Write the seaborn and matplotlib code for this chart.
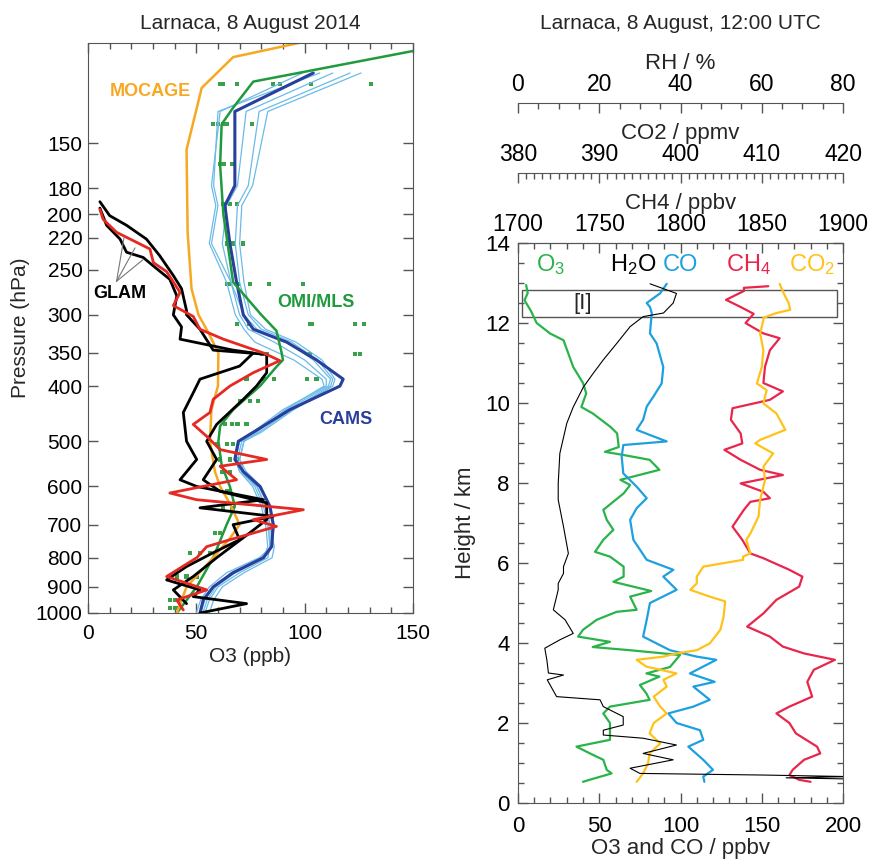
import seaborn as sns
import matplotlib.pyplot as plt
import pandas as pd
from matplotlib.patches import Rectangle
from matplotlib.ticker import MultipleLocator, NullLocator, FixedLocator

# ---------------- left panel: pressure profiles (hPa) of O3 (ppb) ----------------
mocage_p = [100, 106, 120, 154, 215, 270, 300, 322, 350, 400, 440, 500, 565, 600, 643, 700, 740, 800, 900, 1000]
mocage_o3 = [97.8, 67, 52.5, 45.5, 46, 47.8, 51, 55.5, 60.2, 60, 57, 56.3, 58.6, 61, 65.5, 70, 65.5, 57.8, 45.5, 41]

omi_p = [100, 117, 130, 139, 164, 200, 263, 300, 320, 350, 360, 370, 400, 440, 470, 500, 550, 600, 650, 700, 800, 900, 1000]
omi_o3 = [170, 76.3, 67, 61.7, 61, 62.5, 67, 80, 87, 89.4, 90, 87, 79.4, 67, 61, 60.2, 61.7, 65.5, 67.8, 64, 57.8, 50.2, 41]

omi_dot_p = ([118] * 7 + [139] * 5 + [163] * 3 + [192] * 3 + [225] * 3 + [265] * 6 + [311] * 6 + [352] * 5
             + [389] * 5 + [425] * 3 + [467] * 4 + [505] * 3 + [538] * 3 + [565] * 2 + [612] * 2 + [654] * 2
             + [723] * 2 + [784] * 3 + [863] * 3 + [949] * 3 + [980] * 3)
omi_dot_o3 = [60.9, 62.2, 68.9, 85.5, 88.6, 102.8, 130.5,
              57.8, 60.2, 62.5, 64.3, 75.8,
              60.9, 62.8, 66.3,
              62.5, 65.5, 68.6,
              64, 67, 71.4,
              64, 65.5, 69, 74.8, 83.7, 99.4,
              68.6, 74.5, 102.5, 103.5, 123.2, 127.5,
              80.2, 82.5, 102.5, 123.2, 125.5,
              73.2, 81, 86, 101, 105.5,
              70, 74.8, 78.6,
              63.2, 66.3, 69, 73.2,
              59.4, 64, 67,
              61, 65.5, 68.6,
              61.7, 65.5,
              64, 65.5,
              62.5, 66.3,
              58.6, 61,
              47, 51.7, 56.3,
              41, 45.5, 50.2,
              37.8, 40.2, 42.5,
              38, 40, 42]

cams_p = [113, 132, 178, 193, 225, 263, 300, 318, 335, 360, 389, 400, 440, 482, 500, 538, 565, 600, 650, 700, 765, 800, 850, 900, 949, 1000]
cams_o3 = [104, 67.8, 67.8, 63.2, 65.5, 68.6, 71.7, 76.3, 91.7, 105.5, 117.8, 116.3, 93.2, 76.3, 69.4, 67.8, 71.7, 79.4, 84, 85.5, 84.8, 81, 67, 57.8, 53.2, 51.7]
ens_m1 = [126, 83, 76, 71, 70, 72, 75, 82, 96, 108, 114, 113, 95, 80, 72, 70, 72, 78, 82, 84, 86, 85, 72, 62, 58, 56]
ens_m2 = [121, 79, 74, 69, 68, 70, 74, 80, 94, 106, 113, 112, 94, 79, 71, 69, 71, 77, 81, 83, 84, 83, 70, 60, 56, 54]
ens_m3 = [113, 73, 69, 64, 62, 66, 72, 78, 92, 104, 112, 111, 92, 77, 70, 68, 70, 76, 80, 82, 83, 81, 68, 59, 55, 53]
ens_m4 = [107, 60, 58, 60, 57, 66, 70, 74, 86, 100, 110, 110, 90, 76, 70, 68, 70, 78, 82, 84, 84, 80, 66, 58, 54, 52]
ens_m5 = [99, 61, 57, 59, 56, 64, 68, 72, 77, 95, 108, 109, 91, 78, 72, 70, 73, 80, 84, 86, 85, 79, 64, 56, 52, 50]

glam_k1_p = [195, 209, 221, 233, 238, 246, 260, 278, 300, 315, 331, 346, 350, 369, 389, 411, 445, 500, 538, 584, 600,
             633, 654, 677, 700, 744, 784, 829, 875, 911, 936, 963, 1000]
glam_k1_o3 = [5.5, 8.6, 14.8, 17.8, 25.5, 30, 37.8, 41, 39.4, 43.2, 42.5, 67, 76.3, 70, 51.7, 48.6, 44, 45.5, 50.2, 42.5, 50.2,
              81, 51.7, 85.5, 67, 70, 57.8, 45.5, 36.3, 51.7, 48.6, 73.2, 51.7]
glam_k2_p = [190, 201, 209, 221, 236, 256, 270, 295, 300, 318, 346, 352, 379, 400, 422, 467, 500, 538, 584, 612, 641,
             686, 723, 800, 863, 911, 963]
glam_k2_o3 = [5.5, 10, 17.8, 27, 33, 39.4, 43.2, 45.5, 45.5, 51.7, 57.8, 82.5, 82.5, 77.8, 71.7, 59.4, 54.8, 59.4, 53.2, 61, 82.5,
              82.5, 74.8, 59.4, 48.6, 39.4, 45.5]
glam_r_p = [196, 204, 215, 230, 243, 252, 274, 289, 302, 318, 331, 350, 361, 379, 400, 422, 445, 467, 490, 517, 538, 553,
            584, 616, 633, 659, 686, 705, 744, 765, 800, 863, 911, 949, 988]
glam_r_o3 = [5.5, 7, 13.2, 28.6, 30.2, 36.3, 42.5, 39.4, 48.6, 51.7, 62.5, 81, 88.6, 76.3, 65.5, 57.8, 56.3, 48.6, 54.8, 61, 82.5, 61,
             68.6, 37.8, 50.2, 99.4, 76.3, 87, 65.5, 54.8, 50.2, 36.3, 54.8, 41, 44]

p_ticks = [150, 180, 200, 220, 250, 300, 350, 400, 500, 600, 700, 800, 900, 1000]

# ---------------- right panel: height (km) profiles ----------------
o3_h = [12.95, 12.75, 12.57, 12.3, 12.0, 11.74, 11.57, 10.9, 10.5, 10.24, 9.9, 9.74, 9.4, 9.24, 8.9, 8.78, 8.7, 8.58, 8.33,
        8.08, 7.95, 7.74, 7.33, 7.08, 6.83, 6.58, 6.28, 6.16, 5.91, 5.66, 5.53, 5.3, 5.16, 4.83, 4.78, 4.58, 4.33, 4.16,
        4.03, 3.9, 3.82, 3.7, 3.4, 3.24, 3.16, 2.95, 2.74, 2.58, 2.41, 2.24, 2.0, 1.82, 1.58, 1.41, 1.24, 1.08, 0.83, 0.74,
        0.58, 0.53]
o3_v = [5, 6, 4, 8, 11.5, 19.7, 28, 34, 40, 42, 39, 46, 57, 61, 62, 53.5, 65, 81, 87, 63, 69, 65, 52.5, 54.6, 58.7, 52.5,
        47.4, 56.6, 65, 65, 58.7, 82, 69, 73, 60.7, 48.4, 40, 37, 56.6, 46, 69, 99.7, 93.5, 79, 87, 75, 79, 81, 56.6, 52.5,
        56.6, 56.6, 56.6, 36, 44.3, 52.5, 54.6, 57.6, 44, 40]

h2o_h = [12.98, 12.74, 12.5, 12.25, 12.16, 11.91, 11.49, 11.08, 10.74, 10.4, 9.9, 9.49, 8.74, 7.99, 7.58, 6.91, 6.24, 5.91,
         5.74, 5.49, 5.33, 4.83, 4.58, 4.24, 4.08, 3.87, 3.58, 3.25, 3.2, 3.08, 2.66, 2.58, 2.41, 2.16, 1.95, 1.82, 1.7,
         1.62, 1.45, 1.24, 1.08, 0.87, 0.74, 0.7, 0.66, 0.63, 0.6]
h2o_rh = [32.5, 39, 38.2, 35.8, 30.8, 27.6, 24.3, 21, 18.5, 16.1, 13.6, 12, 10.3, 9.9, 9.9, 11.2, 12.4, 11.2, 11.2, 9.9,
          9.9, 8.7, 11.6, 13.6, 10.3, 6.6, 7.1, 7.5, 11.2, 7.2, 9.5, 20.2, 21, 25.9, 25.9, 21, 21, 30.8, 39, 30.8, 38.2,
          27.6, 30, 60, 82, 66, 82]

co_h = [12.98, 12.74, 12.5, 12.4, 12.25, 11.74, 11.49, 10.9, 10.49, 10.16, 9.91, 9.58, 9.33, 9.2, 9.04, 8.95, 8.66, 8.24,
        7.91, 7.62, 7.37, 7.08, 6.58, 6.08, 5.83, 5.66, 5.33, 5.0, 4.58, 4.16, 3.82, 3.66, 3.58, 3.24, 3.03, 2.91, 2.58,
        2.41, 2.24, 2.0, 1.82, 1.58, 1.41, 1.08, 0.83, 0.66, 0.53]
co_v = [91.5, 87.4, 79.2, 81.2, 82.3, 81.2, 85.3, 89.4, 88.4, 83.3, 79.2, 77, 73, 81.2, 91.5, 64.8, 63.8, 64.8, 73, 79.2,
        73, 69, 71, 79.2, 95.6, 89.4, 97.6, 81.2, 79.2, 77, 93.5, 110, 122, 105.8, 121, 107.9, 118, 107.9, 92.5, 97.6,
        112, 114, 104.8, 114, 120, 114, 114.7]

ch4_h = [12.92, 12.88, 12.8, 12.58, 12.4, 12.23, 12.0, 11.74, 11.62, 11.32, 10.91, 10.5, 10.29, 10.08, 9.87, 9.58, 9.24,
         8.99, 8.83, 8.58, 8.33, 8.2, 7.99, 7.78, 7.62, 7.53, 7.33, 6.91, 6.58, 6.24, 6.12, 5.83, 5.66, 5.41, 5.08, 4.74,
         4.41, 4.16, 3.91, 3.74, 3.58, 3.33, 3.03, 2.66, 2.41, 2.24, 2.0, 1.74, 1.41, 1.24, 1.08, 0.83, 0.7, 0.58, 0.53]
ch4_v = [1854, 1839, 1839, 1828, 1837, 1845, 1840, 1851, 1861, 1855, 1852, 1851, 1863, 1855, 1832, 1831, 1837, 1838, 1827,
         1837, 1849, 1863, 1837, 1851, 1855, 1843, 1839, 1832, 1838, 1843, 1851, 1867, 1875, 1873, 1859, 1851, 1841, 1855,
         1863, 1876, 1895, 1882, 1878, 1881, 1867, 1859, 1867, 1871, 1884, 1886, 1876, 1869, 1867, 1873, 1880]

co2_h = [12.98, 12.74, 12.5, 12.33, 12.25, 12.13, 12.08, 11.74, 11.32, 10.9, 10.49, 10.32, 9.99, 9.74, 9.33, 9.08, 8.99,
         8.74, 8.41, 8.08, 7.58, 7.16, 6.74, 6.58, 6.24, 6.16, 6.08, 5.91, 5.66, 5.49, 5.33, 5.16, 5.04, 4.66, 4.33, 3.99,
         3.82, 3.74, 3.66, 3.58, 3.41, 3.24, 3.08, 2.91, 2.66, 2.41, 2.24, 2.0, 1.74, 1.49, 1.24, 0.99, 0.74, 0.53]
co2_v = [412.2, 412.7, 413.3, 413.5, 411.8, 410.2, 410.2, 409.8, 410.2, 410.0, 409.4, 410.6, 410.2, 411.8, 412.9, 409.8,
         409.2, 411.4, 410.2, 410.4, 409.8, 409.6, 408.6, 408.1, 408.6, 407.7, 407.7, 402.8, 402.0, 402.0, 401.2, 403.6,
         405.5, 405.3, 404.9, 403.6, 402.0, 399.5, 397.9, 394.6, 395.8, 399.5, 397.9, 398.3, 396.7, 397.5, 398.3, 396.7,
         396.2, 397.5, 396.2, 396.0, 395.4, 394.6]

# colours
c_o3, c_co, c_ch4, c_co2 = '#2bb34b', '#1ea0e0', '#e8264c', '#ffc21a'
c_moc, c_omi, c_cams, c_ens = '#f7a823', '#1f9a3c', '#283f9c', '#6bbbe8'
c_glam_r = '#e42a22'

sns.set_style('ticks')
plt.rcParams['font.family'] = ['Liberation Sans', 'DejaVu Sans']
plt.rcParams['mathtext.default'] = 'regular'
plt.rcParams['xtick.direction'] = 'in'
plt.rcParams['ytick.direction'] = 'in'
plt.rcParams['axes.edgecolor'] = '#555555'
plt.rcParams['xtick.color'] = '#555555'
plt.rcParams['ytick.color'] = '#555555'
plt.rcParams['xtick.labelcolor'] = 'black'
plt.rcParams['ytick.labelcolor'] = 'black'

fig = plt.figure(figsize=(8.71, 8.63), dpi=100)
axl = fig.add_axes([0.101, 0.2897, 0.3731, 0.6608])
axr = fig.add_axes([0.5947, 0.0695, 0.3732, 0.6489])

# ---- left panel ----
ens_df = pd.DataFrame({
    'p': cams_p * 5,
    'o3': ens_m1 + ens_m2 + ens_m3 + ens_m4 + ens_m5,
    'member': sum([[i] * len(cams_p) for i in range(5)], []),
})
sns.lineplot(data=ens_df, x='o3', y='p', units='member', estimator=None, sort=False,
             color=c_ens, lw=0.9, ax=axl)
sns.lineplot(x=cams_o3, y=cams_p, sort=False, estimator=None, color=c_cams, lw=2.2, ax=axl)
sns.scatterplot(x=omi_dot_o3, y=omi_dot_p, marker='s', s=9, color='#3aa04a', edgecolor='none', ax=axl)
sns.lineplot(x=omi_o3, y=omi_p, sort=False, estimator=None, color=c_omi, lw=1.8, ax=axl)
sns.lineplot(x=mocage_o3, y=mocage_p, sort=False, estimator=None, color=c_moc, lw=1.8, ax=axl)
sns.lineplot(x=glam_k1_o3, y=glam_k1_p, sort=False, estimator=None, color='black', lw=2.0, ax=axl)
sns.lineplot(x=glam_k2_o3, y=glam_k2_p, sort=False, estimator=None, color='black', lw=2.0, ax=axl)
sns.lineplot(x=glam_r_o3, y=glam_r_p, sort=False, estimator=None, color=c_glam_r, lw=2.0, ax=axl)

axl.set_yscale('log')
axl.set_ylim(1000, 100)
axl.set_xlim(0, 150)
axl.yaxis.set_major_locator(FixedLocator(p_ticks))
axl.yaxis.set_minor_locator(NullLocator())
axl.set_yticklabels([str(p) for p in p_ticks])
axl.xaxis.set_major_locator(MultipleLocator(50))
axl.xaxis.set_minor_locator(MultipleLocator(10))
axl.tick_params(which='both', top=True, right=True, labelsize=15)
axl.tick_params(which='major', length=7, width=1, pad=4)
axl.tick_params(which='minor', length=4, width=1)
axl.tick_params(axis='x', pad=8)
axl.set_xlabel('O3 (ppb)', fontsize=15, labelpad=3)
axl.set_ylabel('Pressure (hPa)', fontsize=15, labelpad=4)

axl.text(28.6, 122, 'MOCAGE', color=c_moc, fontsize=13, fontweight='bold', ha='center', va='center')
axl.text(105, 285, 'OMI/MLS', color=c_omi, fontsize=13, fontweight='bold', ha='center', va='center')
axl.text(119, 458, 'CAMS', color=c_cams, fontsize=13, fontweight='bold', ha='center', va='center')
axl.text(14.8, 275, 'GLAM', color='black', fontsize=13, fontweight='bold', ha='center', va='center')
glam_ptr_from = (13.2, 262)
glam_ptr_to = [(16.6, 220), (21.7, 229), (25.5, 240)]
for tx, tp in glam_ptr_to:
    axl.plot([glam_ptr_from[0], tx], [glam_ptr_from[1], tp], color='#777777', lw=0.8)

# ---- right panel ----
sns.lineplot(x=o3_v, y=o3_h, sort=False, estimator=None, color=c_o3, lw=1.6, ax=axr)
sns.lineplot(x=co_v, y=co_h, sort=False, estimator=None, color=c_co, lw=1.6, ax=axr)
axr.set_xlim(0, 200)
axr.set_ylim(0, 14)
axr.xaxis.set_major_locator(MultipleLocator(50))
axr.xaxis.set_minor_locator(MultipleLocator(10))
axr.yaxis.set_major_locator(MultipleLocator(2))
axr.yaxis.set_minor_locator(MultipleLocator(0.5))
axr.tick_params(which='both', top=False, right=True, labelsize=16)
axr.tick_params(which='major', length=7, width=1, pad=6)
axr.tick_params(which='minor', length=4, width=1)
axr.tick_params(axis='x', pad=9)
axr.set_xlabel('O3 and CO / ppbv', fontsize=16, labelpad=1)
axr.set_ylabel('Height / km', fontsize=16, labelpad=6)

box_x, box_y, box_w, box_h = 2.5, 12.15, 193.5, 0.68
axr.add_patch(Rectangle((box_x, box_y), box_w, box_h, fill=False, edgecolor='#555555', lw=1))
axr.text(40, 12.5, '[I]', fontsize=16, ha='center', va='center')

labels = [('O$_3$', 20, c_o3), ('H$_2$O', 71, 'black'), ('CO', 100, c_co), ('CH$_4$', 142, c_ch4), ('CO$_2$', 181, c_co2)]
for txt, lx, lc in labels:
    axr.text(lx, 13.45, txt, color=lc, fontsize=17, ha='center', va='center')


def top_axis(pos, lim, major, minor, label):
    tax = axr.twiny()
    for s in ['left', 'right', 'bottom']:
        tax.spines[s].set_visible(False)
    tax.spines['top'].set_position(('axes', pos))
    tax.set_xlim(*lim)
    tax.xaxis.set_major_locator(MultipleLocator(major))
    tax.xaxis.set_minor_locator(MultipleLocator(minor))
    tax.tick_params(which='both', labelsize=16.5, pad=5)
    tax.tick_params(which='major', length=7, width=1)
    tax.tick_params(which='minor', length=4, width=1)
    tax.set_xlabel(label, fontsize=16, labelpad=3)
    return tax


ax_ch4 = top_axis(1.0, (1700, 1900), 50, 10, 'CH4 / ppbv')
ax_co2 = top_axis(1.125, (380, 420), 10, 1, 'CO2 / ppmv')
ax_rh = top_axis(1.25, (0, 80), 20, 5, 'RH / %')

sns.lineplot(x=ch4_v, y=ch4_h, sort=False, estimator=None, color=c_ch4, lw=1.6, ax=ax_ch4)
sns.lineplot(x=co2_v, y=co2_h, sort=False, estimator=None, color=c_co2, lw=1.6, ax=ax_co2)
sns.lineplot(x=h2o_rh, y=h2o_h, sort=False, estimator=None, color='black', lw=0.8, ax=ax_rh)
for tax in (ax_ch4, ax_co2, ax_rh):
    tax.set_ylim(0, 14)
    tax.set_ylabel('')

fig.text(0.2876, 0.973, 'Larnaca, 8 August 2014', ha='center', va='center', fontsize=15)
fig.text(0.7813, 0.973, 'Larnaca, 8 August, 12:00 UTC', ha='center', va='center', fontsize=15)

fig.savefig('out.png', dpi=100)
